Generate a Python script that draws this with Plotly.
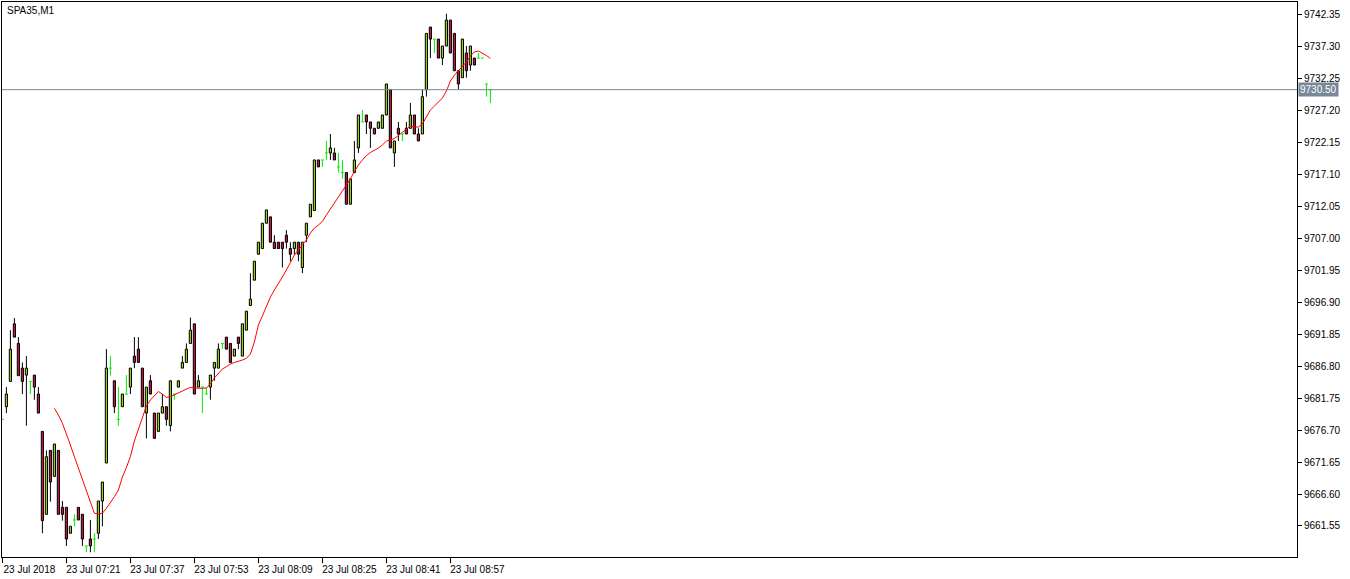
import plotly.graph_objects as go

# ---- data ----
opens = [9678.4, 9680.4, 9684.4, 9693.5, 9690.4, 9686.5, 9685.4, 9684.4, 9685.4, 9682.4,
         9676.5, 9663.4, 9673.5, 9669.4, 9673.5, 9664.5, 9664.5, 9660.4, 9662.5, 9664.5,
         9663.4, 9658.4, 9659.5, 9659.5, 9660.4, 9665.5, 9671.5, 9686.5, 9684.5, 9678.4,
         9680.4, 9682.4, 9683.5, 9688.4, 9689.5, 9686.5, 9679.4, 9684.5, 9679.4, 9676.5,
         9679.4, 9680.4, 9677.4, 9682.4, 9683.5, 9686.5, 9687.4, 9690.4, 9693.5, 9683.5,
         9683.5, 9682.4, 9683.5, 9686.5, 9686.5, 9690.4, 9691.4, 9690.4, 9688.4, 9691.4,
         9688.4, 9692.5, 9696.4, 9700.4, 9704.5, 9705.4, 9709.4, 9710.4, 9706.4, 9706.4,
         9706.4, 9707.5, 9705.4, 9705.4, 9706.4, 9702.4, 9707.5, 9710.4, 9711.4, 9719.4,
         9719.4, 9720.5, 9720.5, 9720.5, 9718.3, 9717.4, 9717.4, 9712.4, 9717.4, 9721.3,
         9725.4, 9726.5, 9725.4, 9724.4, 9724.4, 9724.4, 9726.5, 9730.5, 9720.5, 9724.4,
         9723.5, 9724.4, 9724.4, 9726.5, 9723.5, 9723.5, 9730.5, 9740.4, 9738.5, 9738.5,
         9735.5, 9737.4, 9741.5, 9739.4, 9733.5, 9732.4, 9736.3, 9734.4, 9735.5, 9735.5,
         9735.5, 9731.4, 9730.5]
highs = [9678.4, 9683.5, 9692.5, 9694.4, 9691.4, 9687.4, 9688.4, 9684.4, 9685.4, 9683.5,
         9676.5, 9673.5, 9673.5, 9674.5, 9673.5, 9665.5, 9664.5, 9661.5, 9663.4, 9664.5,
         9663.4, 9658.4, 9662.5, 9660.4, 9665.5, 9668.5, 9689.5, 9688.4, 9684.5, 9683.5,
         9682.4, 9685.4, 9686.5, 9691.4, 9691.4, 9686.5, 9683.5, 9685.4, 9679.4, 9679.4,
         9682.4, 9680.4, 9684.5, 9682.4, 9684.5, 9688.4, 9690.4, 9694.5, 9693.5, 9685.4,
         9683.5, 9683.5, 9685.4, 9687.4, 9690.4, 9690.4, 9691.4, 9690.4, 9689.5, 9691.4,
         9693.5, 9695.5, 9701.5, 9703.4, 9706.4, 9709.4, 9711.5, 9710.4, 9707.5, 9706.4,
         9706.4, 9708.3, 9706.4, 9706.4, 9706.4, 9706.4, 9709.4, 9712.4, 9719.4, 9719.4,
         9719.4, 9722.4, 9723.5, 9721.3, 9720.5, 9719.4, 9717.4, 9716.4, 9722.4, 9726.5,
         9727.3, 9726.5, 9725.4, 9724.4, 9725.4, 9726.5, 9731.4, 9730.5, 9722.4, 9725.4,
         9723.5, 9725.4, 9728.4, 9726.5, 9724.4, 9730.5, 9739.4, 9740.4, 9738.5, 9738.5,
         9737.4, 9742.5, 9741.5, 9739.4, 9733.5, 9738.5, 9737.4, 9737.4, 9735.5, 9736.3,
         9735.5, 9731.4, 9730.5]
lows = [9678.4, 9679.4, 9684.4, 9691.4, 9685.3, 9682.4, 9677.4, 9682.4, 9681.5, 9679.4,
        9660.4, 9663.4, 9665.4, 9669.4, 9663.4, 9662.4, 9658.4, 9660.4, 9661.5, 9662.5,
        9658.4, 9657.4, 9657.4, 9657.4, 9659.5, 9661.5, 9671.5, 9685.3, 9679.4, 9677.4,
        9680.4, 9682.4, 9682.4, 9686.5, 9687.4, 9680.4, 9675.4, 9682.4, 9675.4, 9676.5,
        9679.4, 9677.4, 9676.5, 9681.5, 9683.5, 9686.5, 9687.4, 9690.4, 9682.4, 9683.5,
        9679.4, 9682.4, 9681.5, 9684.5, 9686.5, 9689.5, 9689.5, 9687.4, 9688.4, 9689.5,
        9688.4, 9692.5, 9696.4, 9700.4, 9704.5, 9705.4, 9709.4, 9706.4, 9705.4, 9705.4,
        9702.4, 9705.4, 9703.4, 9704.4, 9703.4, 9701.5, 9706.4, 9710.4, 9711.4, 9718.3,
        9718.3, 9719.4, 9719.4, 9719.4, 9717.4, 9716.4, 9712.4, 9712.4, 9717.4, 9720.5,
        9725.4, 9723.5, 9721.3, 9723.5, 9724.4, 9724.4, 9726.5, 9721.3, 9718.3, 9722.4,
        9722.4, 9723.5, 9724.4, 9723.5, 9722.4, 9723.5, 9729.4, 9735.5, 9736.3, 9735.5,
        9734.4, 9737.4, 9736.3, 9733.5, 9730.5, 9732.4, 9732.4, 9733.5, 9734.4, 9735.5,
        9735.5, 9729.4, 9728.4]
closes = [9678.4, 9682.4, 9689.5, 9691.4, 9685.3, 9684.4, 9686.5, 9684.4, 9683.5, 9679.4,
          9662.4, 9672.5, 9668.5, 9674.5, 9663.4, 9663.4, 9659.5, 9661.5, 9662.5, 9662.5,
          9659.5, 9658.4, 9658.4, 9659.5, 9665.5, 9668.5, 9686.5, 9686.5, 9680.4, 9678.4,
          9682.4, 9682.4, 9686.5, 9687.4, 9687.4, 9680.4, 9683.5, 9682.4, 9675.4, 9679.4,
          9680.4, 9678.4, 9684.5, 9682.4, 9684.5, 9687.4, 9689.5, 9692.5, 9682.4, 9684.5,
          9683.5, 9682.4, 9685.4, 9687.4, 9689.5, 9690.4, 9689.5, 9687.4, 9689.5, 9690.4,
          9693.5, 9695.5, 9697.4, 9703.4, 9706.4, 9709.4, 9711.5, 9706.4, 9705.4, 9705.4,
          9705.4, 9706.4, 9704.5, 9706.4, 9704.5, 9706.4, 9709.4, 9712.4, 9719.4, 9718.3,
          9719.4, 9720.5, 9721.3, 9719.4, 9718.3, 9717.4, 9712.4, 9716.4, 9719.4, 9726.5,
          9725.4, 9725.4, 9724.4, 9723.5, 9725.4, 9726.5, 9731.4, 9721.3, 9722.4, 9723.5,
          9723.5, 9723.5, 9726.5, 9723.5, 9722.4, 9729.4, 9739.4, 9738.5, 9738.5, 9735.5,
          9737.4, 9741.5, 9736.3, 9733.5, 9731.4, 9738.5, 9733.5, 9737.4, 9734.4, 9735.5,
          9735.5, 9731.4, 9730.5]

ma_start = 13
ma_vals = [9680.15, 9679.09, 9677.78, 9676.20, 9674.35, 9672.50, 9670.67, 9668.82, 9666.97, 9665.14,
           9663.56, 9663.45, 9663.56, 9664.35, 9665.23, 9666.18, 9667.24, 9669.29, 9670.79, 9672.52,
           9674.98, 9676.88, 9678.78, 9680.51, 9681.46, 9682.09, 9682.80, 9682.41, 9681.86, 9681.98,
           9682.25, 9682.49, 9682.88, 9683.20, 9683.44, 9683.36, 9683.31, 9683.31, 9683.36, 9683.99,
           9684.94, 9685.73, 9686.36, 9686.72, 9687.15, 9687.39, 9687.55, 9687.78, 9688.05, 9688.73,
           9690.63, 9693.31, 9694.74, 9696.32, 9697.74, 9698.84, 9699.79, 9700.90, 9702.01, 9703.27,
           9704.38, 9705.17, 9705.96, 9706.75, 9707.85, 9708.64, 9709.12, 9709.67, 9710.70, 9711.65,
           9712.59, 9713.54, 9714.49, 9715.36, 9716.39, 9717.57, 9718.60, 9719.39, 9720.10, 9720.57,
           9720.89, 9721.28, 9721.76, 9722.39, 9722.55, 9722.79, 9723.26, 9723.73, 9724.29, 9724.76,
           9724.60, 9724.60, 9725.08, 9726.18, 9727.29, 9727.92, 9728.63, 9729.19, 9730.29, 9731.87,
           9732.82, 9733.53, 9734.24, 9734.88, 9735.82, 9736.46, 9736.61, 9736.30, 9735.90, 9735.46]

x_tick_bars = [0, 16, 32, 48, 64, 80, 96, 112]
x_tick_labels = ["23 Jul 2018", "23 Jul 07:21", "23 Jul 07:37", "23 Jul 07:53",
                 "23 Jul 08:09", "23 Jul 08:25", "23 Jul 08:41", "23 Jul 08:57"]
y_tick_labels = ["9661.55", "9666.60", "9671.65", "9676.70", "9681.75", "9686.80", "9691.85",
                 "9696.90", "9701.95", "9707.00", "9712.05", "9717.10", "9722.15", "9727.20",
                 "9732.25", "9737.30", "9742.35"]
last_price = 9730.50
symbol_title = "SPA35,M1"

# ---- styles ----
BULL = "#8fd400"
BEAR = "#c8103c"
DOJI = "#00ee00"
HALF = 0.375

n = len(opens)
idx = list(range(n))

# wicks (outside bodies)
wx, wy = [], []
bull_x, bull_b, bull_h = [], [], []
bear_x, bear_b, bear_h = [], [], []
dx, dy = [], []
for i in idx:
    o, h, l, c = opens[i], highs[i], lows[i], closes[i]
    if o == c:
        dx += [i, i, None, i - HALF, i + HALF, None]
        dy += [l, h, None, o, o, None]
        continue
    top, bot = max(o, c), min(o, c)
    if h > top:
        wx += [i, i, None]
        wy += [top, h, None]
    if l < bot:
        wx += [i, i, None]
        wy += [bot, l, None]
    if c > o:
        bull_x.append(i); bull_b.append(bot); bull_h.append(top - bot)
    else:
        bear_x.append(i); bear_b.append(bot); bear_h.append(top - bot)

fig = go.Figure()
fig.add_trace(go.Scatter(x=wx, y=wy, mode="lines", line=dict(color="black", width=1),
                         hoverinfo="skip"))
fig.add_trace(go.Bar(x=bull_x, y=bull_h, base=bull_b, width=0.55,
                     marker=dict(color=BULL, line=dict(color="black", width=1)), hoverinfo="skip"))
fig.add_trace(go.Bar(x=bear_x, y=bear_h, base=bear_b, width=0.55,
                     marker=dict(color=BEAR, line=dict(color="black", width=1)), hoverinfo="skip"))
fig.add_trace(go.Scatter(x=dx, y=dy, mode="lines", line=dict(color=DOJI, width=1),
                         hoverinfo="skip"))
fig.add_trace(go.Scatter(x=list(range(ma_start, ma_start + len(ma_vals))), y=ma_vals,
                         mode="lines", line=dict(color="#ff0000", width=1), hoverinfo="skip"))

fig.add_hline(y=last_price, line=dict(color="#778899", width=1))

y_tick_vals = [float(t) for t in y_tick_labels]

fig.update_layout(
    width=1350, height=579,
    margin=dict(l=2, r=53, t=2, b=22, autoexpand=False),
    plot_bgcolor="white", paper_bgcolor="white",
    showlegend=False, barmode="overlay",
    font=dict(family="Liberation Sans", size=10, color="black"),
    xaxis=dict(range=[-0.1, 323.65], showgrid=False, zeroline=False,
               showline=True, linecolor="black", linewidth=1, mirror=True,
               ticks="outside", ticklen=5, tickcolor="black",
               tickvals=x_tick_bars, ticktext=x_tick_labels, ticklabelshift=27,
               ticklabelstandoff=-2, tickfont=dict(size=10), automargin=False),
    yaxis=dict(range=[9656.65, 9744.36], side="right", showgrid=False, zeroline=False,
               showline=True, linecolor="black", linewidth=1, mirror=True,
               ticks="outside", ticklen=4, tickcolor="black",
               tickvals=y_tick_vals, ticktext=y_tick_labels, tickfont=dict(size=10),
               automargin=False),
    annotations=[
        dict(text=symbol_title, xref="paper", yref="paper", x=0, y=1, xanchor="left",
             yanchor="top", xshift=3, yshift=-1, showarrow=False,
             font=dict(size=10, color="black")),
        dict(text=f"{last_price:.2f}", xref="paper", yref="y", x=1, y=last_price,
             xanchor="left", yanchor="middle", xshift=1, showarrow=False,
             bgcolor="#778899", borderpad=1, font=dict(size=10, color="white")),
    ],
)

fig.write_html("out.html", config={"displayModeBar": False},
               post_script="document.body.style.margin='0';document.body.style.overflow='hidden';")
